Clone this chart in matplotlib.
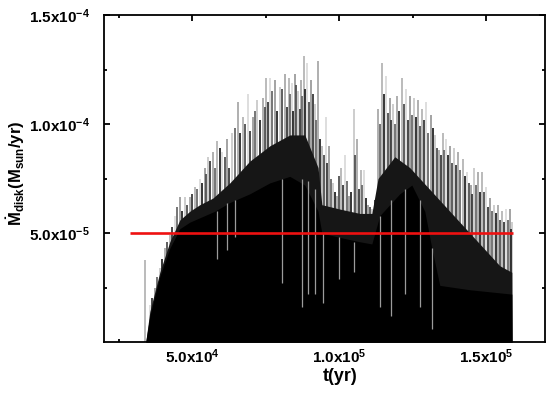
import matplotlib
matplotlib.use("Agg")
import matplotlib.pyplot as plt
from matplotlib.ticker import FixedLocator, FuncFormatter

# ---------------- datos (tasa en 1e-5 Msun/yr) ----------------
# picos (envolvente superior de las espigas grises claras)
t_pico = [33900, 35600, 37300, 39000, 40700, 42400, 44100, 45800, 47500, 49200,
          50900, 52600, 54300, 55400, 57100, 58400, 60100, 61800, 63500, 65600,
          67300, 69000, 70700, 72000, 74100, 75100, 76400, 78100, 79800, 81500,
          82900, 83900, 84900, 86000, 87000, 88000, 89000, 90400, 91700, 92800,
          94100, 95500, 96500, 97900, 99200, 100600, 101900, 103300, 105000, 106000,
          107400, 108400, 109800, 111100, 113200, 114500, 115900, 117200, 118300, 119600,
          121300, 122700, 124000, 125400, 126800, 128100, 129500, 131200, 132500, 133900,
          135300, 136300, 137600, 139000, 140400, 142100, 143400, 144800, 145800, 147200,
          148500, 149900, 151200, 152600, 154000, 155300, 156700, 158000, 158700]
pico = [3.76, 1.7, 2.5, 3.4, 4.3, 4.9, 5.8, 6.65, 6.65, 6.65,
        7.1, 7.5, 8.0, 8.5, 8.7, 9.2, 8.7, 9.3, 9.6, 11.0,
        10.3, 11.4, 10.3, 11.1, 11.2, 12.1, 12.1, 12.0, 11.7, 12.3,
        12.1, 11.9, 12.3, 11.5, 12.0, 13.1, 12.8, 12.0, 10.9, 12.9,
        9.0, 10.3, 9.0, 7.3, 6.7, 8.0, 8.6, 6.7, 10.7, 9.3,
        7.9, 7.9, 6.3, 6.1, 10.7, 12.8, 12.2, 11.2, 10.9, 11.3,
        12.1, 11.6, 11.3, 11.2, 11.1, 10.7, 11.0, 10.4, 9.5, 8.8,
        9.6, 9.3, 9.0, 8.9, 8.7, 8.4, 7.8, 7.2, 8.0, 7.8,
        7.8, 7.1, 6.6, 6.3, 6.3, 6.0, 6.1, 6.1, 5.5]

# espigas intermedias (gris oscuro)
t_pico2 = [36500, 38200, 39900, 41600, 43300, 45000, 46700, 48400, 50000, 51800,
           53500, 54800, 56200, 57700, 59300, 61000, 62600, 64500, 66400, 68100,
           69800, 71300, 73000, 74600, 75800, 77300, 79000, 80600, 82200, 83400,
           84400, 85400, 86500, 87500, 88500, 89700, 91000, 92200, 93400, 94800,
           96000, 97200, 98500, 99900, 101200, 102600, 104100, 105500, 106700, 107900,
           109100, 110500, 112100, 113800, 115200, 116500, 117700, 118900, 120400, 122000,
           123300, 124700, 126100, 127400, 128800, 130300, 131800, 133200, 134600, 135800,
           136900, 138300, 139700, 141200, 142700, 144100, 145300, 146500, 147800, 149200,
           150500, 151900, 153300, 154600, 156000, 157300, 158400]
pico2 = [2.0, 3.0, 3.8, 4.6, 5.3, 6.2, 6.0, 6.3, 6.8, 7.0,
         7.3, 7.7, 8.3, 8.0, 8.9, 8.5, 8.0, 9.8, 9.6, 10.0,
         9.7, 10.6, 10.2, 10.8, 11.0, 11.5, 10.6, 11.6, 10.8, 11.4,
         10.6, 11.8, 10.7, 11.3, 11.6, 11.0, 11.4, 10.2, 9.3, 8.6,
         8.2, 7.5, 6.9, 7.6, 7.2, 7.4, 6.9, 8.6, 7.0, 7.2,
         6.6, 6.2, 6.5, 10.0, 11.4, 10.5, 10.2, 10.0, 10.6, 10.9,
         10.2, 10.4, 10.3, 9.9, 10.2, 9.6, 9.8, 8.9, 8.6, 8.8,
         8.6, 8.2, 8.1, 7.9, 7.6, 7.3, 6.8, 7.2, 6.9, 6.9,
         6.2, 6.0, 5.9, 5.6, 5.5, 5.6, 5.2]

# banda oscura densa
t_medio = [34200, 35600, 39000, 42400, 45800, 49200, 52600, 57000, 62800, 69600,
           76400, 83200, 88300, 92800, 94100, 100200, 107000, 111100, 113200, 118900,
           124000, 130800, 134200, 141000, 147800, 154600, 158700, 158800]
medio = [0.0, 1.4, 3.2, 4.6, 5.6, 6.0, 6.3, 6.6, 7.3, 8.3,
         9.0, 9.5, 9.5, 8.0, 6.3, 6.1, 5.9, 5.9, 7.5, 8.5,
         8.0, 7.0, 6.5, 5.5, 4.5, 3.5, 3.2, 0.0]

# nucleo negro solido
t_nucleo = [34200, 35600, 39000, 42400, 45800, 49200, 52600, 57700, 62800, 69600,
            76400, 83200, 88300, 92800, 94100, 100200, 107000, 111100, 113800, 120600,
            124700, 129100, 131500, 134200, 144400, 158700, 158800]
nucleo = [0.0, 1.2, 3.0, 4.3, 5.2, 5.5, 5.7, 6.0, 6.4, 6.8,
          7.3, 7.6, 7.2, 6.0, 5.0, 4.8, 4.6, 4.5, 5.8, 6.8,
          7.2, 6.0, 4.3, 2.6, 2.4, 2.2, 0.0]

# caidas (lineas grises dentro del nucleo): tiempo, minimo, maximo
t_caida = [58400, 61800, 64500, 80500, 87300, 89400, 91700, 94500, 99900, 105000,
           113800, 117600, 122300, 127400, 131500]
caida_min = [3.8, 4.2, 4.8, 2.7, 1.6, 2.2, 2.2, 1.8, 2.9, 3.2,
             1.6, 1.2, 2.2, 1.6, 0.6]
caida_max = [6.0, 6.4, 6.5, 7.5, 7.5, 7.4, 7.0, 5.0, 4.8, 4.6,
             5.8, 6.5, 7.0, 6.5, 4.3]

# linea roja de referencia
t_rojo = [29000, 159000]
nivel_rojo = 5.0

escala = 1e-5
ticks_x = [5e4, 1e5, 1.5e5]
ticks_y = [5e-5, 1e-4, 1.5e-4]

# ---------------- estilo ----------------
plt.rcParams["font.family"] = ["Liberation Sans", "DejaVu Sans"]
plt.rcParams["font.weight"] = "bold"
plt.rcParams["mathtext.fontset"] = "custom"
plt.rcParams["mathtext.rm"] = "Liberation Sans:bold"
plt.rcParams["mathtext.it"] = "Liberation Sans:bold"
plt.rcParams["mathtext.bf"] = "Liberation Sans:bold"

fig = plt.figure(figsize=(5.5, 3.95), dpi=100)
ax = fig.add_axes([0.189, 0.134, 0.802, 0.828])

# capas: espigas claras < espigas oscuras < banda oscura < nucleo negro < caidas < rojo
grises = ["#a8a8a8", "#d4d4d4", "#8a8a8a", "#c0c0c0", "#9a9a9a"]
for i in range(len(t_pico)):
    ax.vlines(t_pico[i], 0, pico[i] * escala, color=grises[i % len(grises)],
              lw=1.1, zorder=1)

grises2 = ["#3a3a3a", "#6a6a6a", "#262626", "#505050"]
for i in range(len(t_pico2)):
    ax.vlines(t_pico2[i], 0, pico2[i] * escala, color=grises2[i % len(grises2)],
              lw=1.3, zorder=1.5)

ax.fill_between(t_medio, 0, [m * escala for m in medio], color="#161616", lw=0, zorder=2)
ax.fill_between(t_nucleo, 0, [n * escala for n in nucleo], color="black", lw=0, zorder=2.5)

for i in range(len(t_caida)):
    ax.vlines(t_caida[i], caida_min[i] * escala, caida_max[i] * escala,
              color="#9c9c9c", lw=0.9, zorder=3)

ax.hlines(nivel_rojo * escala, t_rojo[0], t_rojo[1], color="#ee1111", lw=1.9, zorder=4)

ax.set_xlim(2e4, 1.7e5)
ax.set_ylim(0, 1.5e-4)


def fmt(v, pos):
    exp = int(f"{v:e}".split("e")[1])
    mant = v / 10 ** exp
    return f"{mant:.1f}x10$^{{{exp}}}$"


ax.xaxis.set_major_locator(FixedLocator(ticks_x))
ax.yaxis.set_major_locator(FixedLocator(ticks_y))
ax.xaxis.set_minor_locator(FixedLocator([2.5e4, 7.5e4, 1.25e5]))
ax.yaxis.set_minor_locator(FixedLocator([2.5e-5, 7.5e-5, 1.25e-4]))
ax.xaxis.set_major_formatter(FuncFormatter(fmt))
ax.yaxis.set_major_formatter(FuncFormatter(fmt))
ax.tick_params(which="both", direction="in", top=True, right=True, width=1.3,
               labelsize=11)
ax.tick_params(which="major", length=4.5)
ax.tick_params(which="minor", length=2.5)
ax.tick_params(axis="x", which="major", pad=4)
ax.tick_params(axis="y", which="major", pad=10)
for s in ax.spines.values():
    s.set_linewidth(1.3)

ax.set_xlabel("t(yr)", fontsize=13, fontweight="bold", va="top")
ax.xaxis.set_label_coords(0.535, -0.078)
ax.set_ylabel(r"$\dot{M}_{disk}(M_{sun}/yr)$", fontsize=12)
ax.yaxis.set_label_coords(-0.175, 0.517)

fig.savefig("out.png", dpi=100)
